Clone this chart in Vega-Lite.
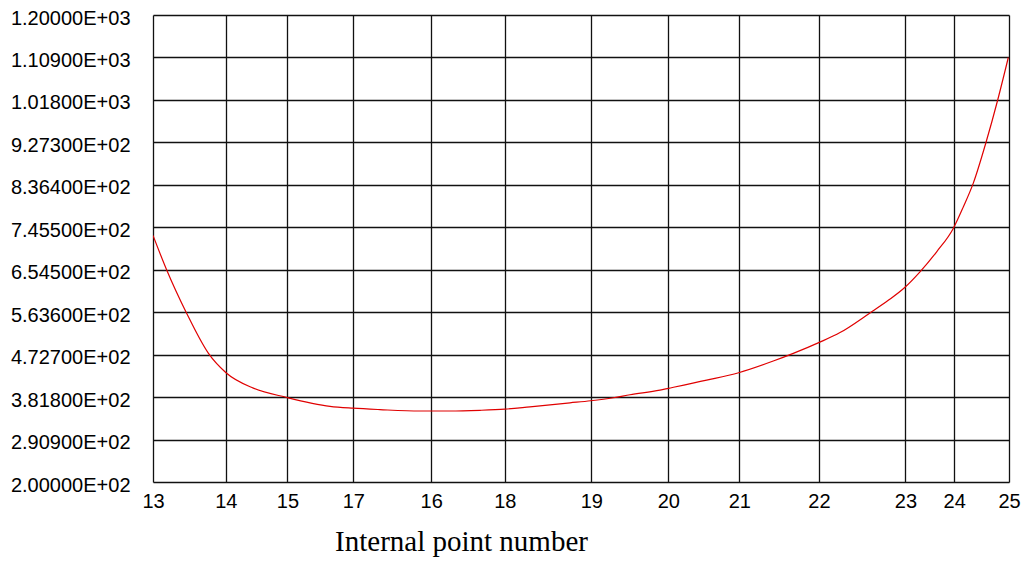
{
  "$schema": "https://vega.github.io/schema/vega-lite/v6.json",
  "width": 856,
  "height": 467,
  "autosize": {"type": "none"},
  "padding": {"left": 153, "top": 15, "right": 16, "bottom": 80},
  "background": "white",
  "config": {"view": {"stroke": null}},
  "data": {
    "values": [
      {"s": 0, "v": 728},
      {"s": 1.6, "v": 654},
      {"s": 3.94, "v": 561},
      {"s": 6.46, "v": 476},
      {"s": 8.53, "v": 434},
      {"s": 11.72, "v": 401},
      {"s": 15.65, "v": 381},
      {"s": 20.68, "v": 362},
      {"s": 23.36, "v": 358},
      {"s": 26.5, "v": 355},
      {"s": 31.2, "v": 352},
      {"s": 34.7, "v": 352},
      {"s": 38.2, "v": 353.5},
      {"s": 41.12, "v": 356},
      {"s": 44.04, "v": 361},
      {"s": 48.71, "v": 369.5},
      {"s": 51.13, "v": 374},
      {"s": 53.77, "v": 380.4},
      {"s": 55.72, "v": 386.8},
      {"s": 59.23, "v": 396.8},
      {"s": 60.2, "v": 400.5},
      {"s": 64.68, "v": 418},
      {"s": 68.42, "v": 434},
      {"s": 72.46, "v": 459},
      {"s": 74.8, "v": 475.4},
      {"s": 77.84, "v": 499},
      {"s": 80.26, "v": 520},
      {"s": 83.76, "v": 562},
      {"s": 85.9, "v": 589},
      {"s": 87.85, "v": 617},
      {"s": 89.6, "v": 650},
      {"s": 91.55, "v": 693},
      {"s": 93.49, "v": 743},
      {"s": 94.66, "v": 789},
      {"s": 95.83, "v": 840},
      {"s": 97.31, "v": 927},
      {"s": 98.68, "v": 1018},
      {"s": 99.92, "v": 1109}
    ]
  },
  "mark": {"type": "line", "color": "#e00000", "strokeWidth": 1.2, "interpolate": "monotone", "clip": true},
  "encoding": {
    "x": {
      "field": "s",
      "type": "quantitative",
      "scale": {"domain": [0, 100], "nice": false, "zero": false},
      "axis": {
        "values": [0, 8.5, 15.7, 23.4, 32.5, 41.1, 51.2, 60.2, 68.5, 77.8, 87.9, 93.6, 100],
        "labelExpr": "['13','14','15','17','16','18','19','20','21','22','23','24','25'][indexof([0,8.5,15.7,23.4,32.5,41.1,51.2,60.2,68.5,77.8,87.9,93.6,100], datum.value)]",
        "title": "Internal point number",
        "titleFont": "Liberation Serif",
        "titleFontSize": 29,
        "titleFontWeight": "normal",
        "titleColor": "black",
        "titleX": 308,
        "titleY": 68,
        "titleAlign": "center",
        "titleBaseline": "alphabetic",
        "labelFont": "Liberation Sans",
        "labelFontSize": 20,
        "labelColor": "black",
        "labelPadding": 9,
        "labelBaseline": "top",
        "labelAlign": "center",
        "labelOverlap": false,
        "labelFlush": false,
        "ticks": false,
        "tickSize": 0,
        "domain": false,
        "grid": true,
        "gridColor": "#111111",
        "gridWidth": 1.3,
        "gridOpacity": 1
      }
    },
    "y": {
      "field": "v",
      "type": "quantitative",
      "scale": {"domain": [200, 1200], "nice": false, "zero": false},
      "axis": {
        "values": [200, 290.9, 381.8, 472.7, 563.6, 654.5, 745.5, 836.4, 927.3, 1018, 1109, 1200],
        "labelExpr": "replace(format(datum.value, '.5e'), 'e+', 'E+0')",
        "title": null,
        "labelFont": "Liberation Sans",
        "labelFontSize": 20,
        "labelColor": "black",
        "labelPadding": 23,
        "labelBaseline": "middle",
        "labelOffset": 3,
        "labelOverlap": false,
        "labelFlush": false,
        "ticks": false,
        "tickSize": 0,
        "domain": false,
        "grid": true,
        "gridColor": "#111111",
        "gridWidth": 1.3,
        "gridOpacity": 1
      }
    }
  }
}
